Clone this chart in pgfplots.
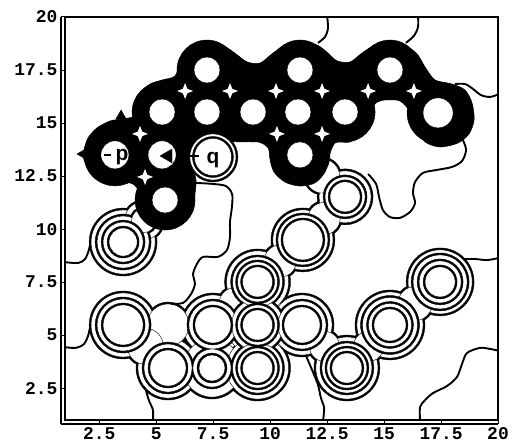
\documentclass[border=0pt]{standalone}
\usepackage{fontspec}
\setmainfont{Liberation Sans}
\setmonofont{Liberation Mono}
\usepackage{pgfplots}
\usepackage{pgfplotstable}
\pgfplotsset{compat=1.18}

% concave four-pointed star
\pgfdeclareplotmark{cstar}{%
  \pgfpathmoveto{\pgfqpoint{0pt}{\pgfplotmarksize}}%
  \pgfpathlineto{\pgfqpoint{0.28\pgfplotmarksize}{0.28\pgfplotmarksize}}%
  \pgfpathlineto{\pgfqpoint{\pgfplotmarksize}{0pt}}%
  \pgfpathlineto{\pgfqpoint{0.28\pgfplotmarksize}{-0.28\pgfplotmarksize}}%
  \pgfpathlineto{\pgfqpoint{0pt}{-\pgfplotmarksize}}%
  \pgfpathlineto{\pgfqpoint{-0.28\pgfplotmarksize}{-0.28\pgfplotmarksize}}%
  \pgfpathlineto{\pgfqpoint{-\pgfplotmarksize}{0pt}}%
  \pgfpathlineto{\pgfqpoint{-0.28\pgfplotmarksize}{0.28\pgfplotmarksize}}%
  \pgfpathclose\pgfusepathqfill}

% contour levels around the lower peaks: centre and radius (bp)
\pgfplotstableread{
x y r
3.55 9.39 33
3.55 5.48 33
5.52 3.45 31
7.49 5.48 31
9.45 5.48 32
11.40 5.48 31
15.26 5.48 34
7.45 3.45 30
9.45 3.45 32
13.37 3.45 32
9.45 7.51 32
17.46 7.51 33
11.44 9.49 31
13.29 11.52 27
5.52 5.48 22
4.53 4.47 19
16.36 6.49 18
10.45 8.50 17
8.47 6.49 17
12.37 10.50 17
12.30 12.50 18
12.39 4.47 16
14.32 4.47 16
4.45 10.40 20
}\levelfour
\pgfplotstableread{
x y r
3.55 9.39 27
3.55 5.48 27
5.52 3.45 25
7.49 5.48 25
9.45 5.48 27
11.40 5.48 25
15.26 5.48 28.5
7.45 3.45 20
9.45 3.45 26
13.37 3.45 26
9.45 7.51 26
17.46 7.51 28
11.44 9.49 26
13.29 11.52 21
4.45 10.40 13
}\levelthree
\pgfplotstableread{
x y r
3.55 9.39 21
3.55 5.48 21
5.52 3.45 19
7.49 5.48 19
9.45 5.48 21
11.40 5.48 19
15.26 5.48 22.5
7.45 3.45 14
9.45 3.45 21
13.37 3.45 21
9.45 7.51 21
17.46 7.51 22
11.44 9.49 21
13.29 11.52 16
}\leveltwo
\pgfplotstableread{
x y r
3.55 9.39 15
9.45 5.48 16
15.26 5.48 17
9.45 3.45 16
13.37 3.45 16
9.45 7.51 16
17.46 7.51 16
}\levelone
% upper cluster: peak centres, band radius, hole radius
\pgfplotstableread{
x y rb rh
7.23 17.50 30 13
11.31 17.50 30 13
15.26 17.50 30 13
5.26 15.52 30 13
7.23 15.52 30 13
9.25 15.52 30 13
11.22 15.52 30 13
13.29 15.52 30 13
17.37 15.48 31 15
3.19 13.50 31 14
5.26 13.50 30 14
11.31 13.50 30 13
5.39 11.37 30 13
}\upper
\pgfplotstableread{
x y
6.27 16.51
8.24 16.51
10.26 16.51
12.28 16.51
14.30 16.51
16.31 16.51
4.29 14.49
10.30 14.49
12.28 14.49
4.51 12.46
}\saddles

\pgfplotsset{
  discs/.style n args={3}{%
    scatter, only marks, mark=*,
    scatter/use mapped color={draw=none, fill=#3},
    visualization depends on={\thisrow{#1}#2 \as \discr},
    scatter/@pre marker code/.append style={/tikz/mark size=\discr bp},
  },
  cline/.style={black, line width=1.9bp, smooth, no markers},
}
\newcommand\level[1]{%
  \addplot[discs={r}{+0.95}{black}] table {#1};
  \addplot[discs={r}{-0.95}{white}] table {#1};
}

\begin{document}
\begin{tikzpicture}
\path[use as bounding box] (-65bp,-27bp) rectangle (447bp,420bp);
\begin{axis}[
  at={(0,0)}, anchor=south west,
  scale only axis, width=433bp, height=403bp,
  xmin=1, xmax=20, ymin=1, ymax=20,
  xtick={2.5,5,...,20}, ytick={2.5,5,...,20},
  tick pos=left, tick align=outside, major tick length=4bp,
  tick style={black, line width=1bp},
  axis line style={line width=1.8bp},
  ticklabel style={font=\ttfamily\bfseries\fontsize{18}{18}\selectfont},
  /pgf/number format/assume math mode=true,
  clip marker paths=true,
]
% lower peaks: nested contour rings
\level{\levelfour}
\level{\levelthree}
\level{\leveltwo}
\level{\levelone}

% upper cluster: dense band of contours
\addplot[fill=black, draw=black, line width=0.5bp, smooth, tension=0.5] coordinates {
(1.83,13.73) (2.01,14.30) (2.40,14.77) (2.98,15.10) (3.50,15.19) (4.03,15.33)
(4.25,15.90) (4.38,16.47) (4.73,16.84) (5.26,17.03) (5.83,17.22) (6.05,17.88)
(6.49,18.49) (7.23,18.82) (7.98,18.63) (8.50,18.26) (8.99,17.88) (9.56,17.83)
(10.08,18.26) (10.65,18.68) (11.31,18.82) (12.06,18.68) (12.54,18.30) (12.94,17.93)
(13.51,17.88) (14.03,18.30) (14.60,18.68) (15.26,18.82) (15.96,18.63) (16.45,18.26)
(16.80,17.64) (17.24,17.03) (17.98,16.84) (18.55,16.56) (18.86,15.95) (18.95,15.15)
(18.73,14.49) (18.25,14.06) (17.46,13.87) (16.80,14.11) (16.36,14.77) (16.14,15.52)
(15.70,16.04) (15.04,16.09) (14.60,15.90) (14.30,15.24) (14.03,14.58) (13.51,14.11)
(12.85,14.06) (12.54,13.26) (12.41,12.69) (11.97,12.18) (11.31,12.03) (10.65,12.22)
(10.17,12.69) (10.00,13.26) (9.91,13.83) (9.47,14.11) (8.68,14.11) (7.89,14.16)
(7.14,14.20) (6.62,13.83) (6.57,13.02) (6.75,12.32) (6.70,11.61) (6.62,10.90)
(6.27,10.34) (5.61,10.05) (4.95,10.19) (4.42,10.76) (4.29,11.37) (4.16,11.94)
(3.85,12.18) (3.19,12.08) (2.54,12.32) (2.10,12.79) (1.83,13.26) (1.83,13.73)};
\addplot[discs={rb}{+0}{black}] table {\upper};
\addplot[discs={rh}{+0}{white}] table {\upper};
\addplot[only marks, mark=cstar, mark size=8bp, white] table {\saddles};

% the q basin
\addplot[only marks, mark=*, mark size=25bp, mark options={draw=none, fill=black}] coordinates {(7.49,13.40)};
\addplot[only marks, mark=*, mark size=23.1bp, mark options={draw=none, fill=white}] coordinates {(7.49,13.40)};
\addplot[only marks, mark=*, mark size=20.5bp, mark options={draw=none, fill=black}] coordinates {(7.49,13.40)};
\addplot[only marks, mark=*, mark size=18.6bp, mark options={draw=none, fill=white}] coordinates {(7.49,13.40)};

% outer contour lines
\addplot[cline] coordinates {(12.50,20.05) (12.54,19.48) (12.41,19.06) (12.10,18.78)};
\addplot[cline] coordinates {(16.49,20.05) (16.49,19.53) (16.31,19.11) (15.96,18.78)};
\addplot[cline] coordinates {(18.11,16.84) (18.55,16.84) (18.90,16.61) (19.25,16.32) (19.65,16.23) (20.05,16.37)};
\addplot[cline] coordinates {(18.46,14.20) (18.60,13.73) (18.42,13.21) (17.98,12.93) (17.32,12.79) (16.71,12.65)
  (16.36,12.22) (16.27,11.70) (16.36,11.23) (16.14,10.81) (15.70,10.53) (15.26,10.57)
  (14.95,10.90) (14.78,11.52) (14.65,12.13) (14.30,12.60)};
\addplot[cline] coordinates {(20.05,8.64) (19.52,8.54) (18.99,8.59) (18.51,8.59)};
\addplot[cline] coordinates {(16.58,0.95) (16.58,1.61) (16.80,1.94) (17.15,2.27) (17.76,2.60) (18.20,3.03)
  (18.42,3.64) (18.64,4.16) (19.21,4.40) (19.65,4.35) (20.05,4.26)};
\addplot[cline] coordinates {(12.32,0.95) (12.37,1.57) (12.23,2.04) (12.10,2.66) (11.88,3.26) (11.58,4.02)};
\addplot[cline] coordinates {(4.86,0.95) (4.86,1.47) (4.69,1.90) (4.55,2.40)};
\addplot[cline] coordinates {(0.95,4.44) (1.48,4.40) (1.83,4.58) (2.01,4.96) (2.10,5.38)};
\addplot[cline] coordinates {(0.95,8.45) (1.57,8.40) (1.88,8.59) (2.05,9.02) (2.10,9.30)};
\addplot[cline] coordinates {(6.70,12.18) (7.49,12.13) (8.06,12.03) (8.33,11.66) (8.33,11.09) (8.24,10.34)
  (8.24,9.63) (8.11,9.02) (7.71,8.69) (7.06,8.69) (6.79,8.36) (6.62,7.89) (6.70,7.41)
  (6.53,6.94) (6.18,6.52) (5.65,6.48)};

% markers for p and q
\addplot[only marks, mark=triangle*, mark size=6bp, mark options={rotate=90, draw=none, fill=black}] coordinates {(1.79,13.54)};
\addplot[only marks, mark=triangle*, mark size=6bp, mark options={draw=none, fill=black}] coordinates {(3.46,15.33)};
\addplot[only marks, mark=triangle*, mark size=8bp, mark options={rotate=90, draw=none, fill=black}] coordinates {(5.52,13.45)};
\addplot[black, line width=2bp, no markers] coordinates {(5.87,13.45) (6.88,13.45)};
\addplot[black, line width=2bp, no markers] coordinates {(2.71,13.50) (3.02,13.50)};
\node[font=\bfseries\fontsize{21}{21}\selectfont] at (axis cs:3.50,13.40) {p};
\node[font=\bfseries\fontsize{21}{21}\selectfont] at (axis cs:7.49,13.26) {q};
\end{axis}
% offset axis lines beside the frame
\draw[line width=1.3bp] (-4bp,-4bp) -- (-4bp,403bp);
\draw[line width=1.3bp] (-4bp,-4bp) -- (433bp,-4bp);
\end{tikzpicture}
\end{document}
